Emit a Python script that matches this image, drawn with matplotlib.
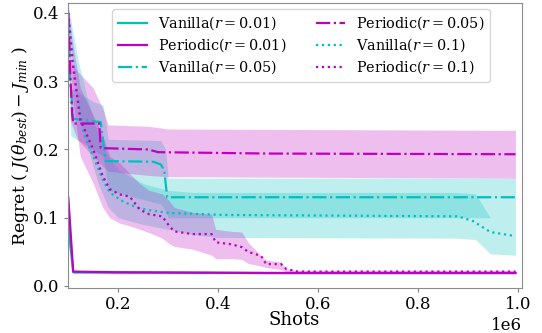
import matplotlib
matplotlib.use("Agg")
import matplotlib.pyplot as plt
import numpy as np

plt.rcParams['font.family'] = ['DejaVu Serif']
plt.rcParams['mathtext.fontset'] = 'dejavuserif'

# ---- data (x in units of 1e6 shots) ----
# Vanilla r=0.01
v001_x = [0.100, 0.104, 0.110, 0.200, 0.500, 0.995]
v001_y = [0.120, 0.060, 0.020, 0.020, 0.019, 0.019]
v001_lo = [0.110, 0.050, 0.018, 0.018, 0.018, 0.018]
v001_hi = [0.130, 0.070, 0.022, 0.021, 0.020, 0.020]

# Periodic r=0.01
p001_x = [0.100, 0.110, 0.200, 0.500, 0.995]
p001_y = [0.130, 0.021, 0.020, 0.019, 0.019]
p001_lo = [0.128, 0.019, 0.018, 0.018, 0.018]
p001_hi = [0.132, 0.023, 0.021, 0.020, 0.020]

# Vanilla r=0.05
v005_x = [0.100, 0.104, 0.110, 0.165, 0.175, 0.270, 0.285, 0.292, 0.298, 0.995]
v005_y = [0.390, 0.300, 0.245, 0.240, 0.183, 0.182, 0.178, 0.170, 0.130, 0.130]
v005_bx = [0.100, 0.105, 0.150, 0.170, 0.180, 0.285, 0.295, 0.300, 0.995]
v005_hi = [0.410, 0.290, 0.270, 0.265, 0.215, 0.213, 0.200, 0.158, 0.158]
v005_lo = [0.370, 0.220, 0.200, 0.190, 0.140, 0.120, 0.110, 0.100, 0.100]

# Periodic r=0.05
p005_x = [0.100, 0.104, 0.108, 0.110, 0.162, 0.165, 0.260, 0.280, 0.500, 0.995]
p005_y = [0.400, 0.310, 0.250, 0.238, 0.238, 0.202, 0.200, 0.196, 0.194, 0.193]
p005_bx = [0.100, 0.105, 0.118, 0.150, 0.170, 0.180, 0.260, 0.300, 0.995]
p005_hi = [0.410, 0.330, 0.315, 0.290, 0.258, 0.236, 0.234, 0.230, 0.228]
p005_lo = [0.380, 0.240, 0.215, 0.190, 0.175, 0.168, 0.162, 0.160, 0.158]

# Vanilla r=0.1
v01_x = [0.100, 0.114, 0.130, 0.144, 0.169, 0.183, 0.209, 0.237, 0.262, 0.302,
         0.415, 0.880, 0.910, 0.945, 0.995]
v01_y = [0.400, 0.300, 0.225, 0.200, 0.156, 0.137, 0.124, 0.115, 0.111, 0.107,
         0.104, 0.102, 0.095, 0.079, 0.073]
v01_bx = [0.100, 0.120, 0.140, 0.160, 0.180, 0.200, 0.250, 0.300, 0.350, 0.400,
          0.875, 0.915, 0.945, 0.995]
v01_hi = [0.410, 0.330, 0.270, 0.220, 0.190, 0.170, 0.150, 0.140, 0.137, 0.137,
          0.137, 0.135, 0.100, 0.100]
v01_lo = [0.380, 0.260, 0.200, 0.150, 0.115, 0.100, 0.090, 0.083, 0.075, 0.071,
          0.070, 0.068, 0.047, 0.045]

# Periodic r=0.1
p01_x = [0.100, 0.108, 0.124, 0.150, 0.169, 0.183, 0.203, 0.223, 0.243, 0.262,
         0.288, 0.302, 0.312, 0.348, 0.387, 0.395, 0.427, 0.447, 0.460, 0.486,
         0.496, 0.526, 0.536, 0.559, 0.995]
p01_y = [0.400, 0.331, 0.244, 0.200, 0.161, 0.142, 0.134, 0.131, 0.112, 0.105,
         0.102, 0.088, 0.080, 0.076, 0.076, 0.064, 0.061, 0.057, 0.050, 0.044,
         0.032, 0.032, 0.025, 0.021, 0.021]
p01_hi = [0.410, 0.360, 0.290, 0.250, 0.220, 0.190, 0.180, 0.165, 0.150, 0.140,
          0.135, 0.125, 0.115, 0.108, 0.105, 0.083, 0.080, 0.079, 0.064, 0.044,
          0.038, 0.035, 0.025, 0.023, 0.023]
p01_lo = [0.380, 0.280, 0.190, 0.150, 0.115, 0.100, 0.092, 0.088, 0.083, 0.078,
          0.070, 0.062, 0.058, 0.054, 0.045, 0.040, 0.040, 0.039, 0.033, 0.029,
          0.027, 0.024, 0.021, 0.019, 0.019]

labels = [r"Vanilla($r=0.01$)", r"Periodic($r=0.01$)", r"Vanilla($r=0.05$)",
          r"Periodic($r=0.05$)", r"Vanilla($r=0.1$)", r"Periodic($r=0.1$)"]

fig = plt.figure(figsize=(5.42, 3.33), dpi=100)
ax = fig.add_axes([67.5/542, 1-288/333, (521.7-67.5)/542, (288-3)/333])

S = 1e6
series = [
    (v001_x, v001_y, v001_x, v001_lo, v001_hi, 'c', '-'),
    (p001_x, p001_y, p001_x, p001_lo, p001_hi, 'm', '-'),
    (v005_x, v005_y, v005_bx, v005_lo, v005_hi, 'c', '-.'),
    (p005_x, p005_y, p005_bx, p005_lo, p005_hi, 'm', '-.'),
    (v01_x, v01_y, v01_bx, v01_lo, v01_hi, 'c', ':'),
    (p01_x, p01_y, p01_x, p01_lo, p01_hi, 'm', ':'),
]
for (x, y, bx, lo, hi, col, ls), lab in zip(series, labels):
    ax.plot(np.array(x)*S, y, color=col, ls=ls, lw=1.6, label=lab)
    ax.fill_between(np.array(bx)*S, lo, hi, color=col, alpha=0.25, lw=0)

ax.set_xlim(0.0985e6, 1.0075e6)
ax.set_ylim(-0.003, 0.4146)
ax.set_yticks([0.0, 0.1, 0.2, 0.3, 0.4])
ax.set_xticks([0.2e6, 0.4e6, 0.6e6, 0.8e6, 1.0e6])
ax.tick_params(labelsize=12, length=3, color='0.5', pad=3)
ax.xaxis.get_offset_text().set_fontsize(12)
for sp in ax.spines.values():
    sp.set_color('0.55')
ax.set_xlabel("Shots", fontsize=13, labelpad=-1.5)
ax.set_ylabel(r"Regret ( $J(\theta_{best}) - J_{min}$ )", fontsize=12.5, labelpad=1)

ax.legend(ncol=2, fontsize=10.4, loc='upper left', bbox_to_anchor=(0.098, 0.979),
          borderaxespad=0, handlelength=2.0, columnspacing=2.0, labelspacing=0.3)

fig.savefig("out.png", dpi=100)
